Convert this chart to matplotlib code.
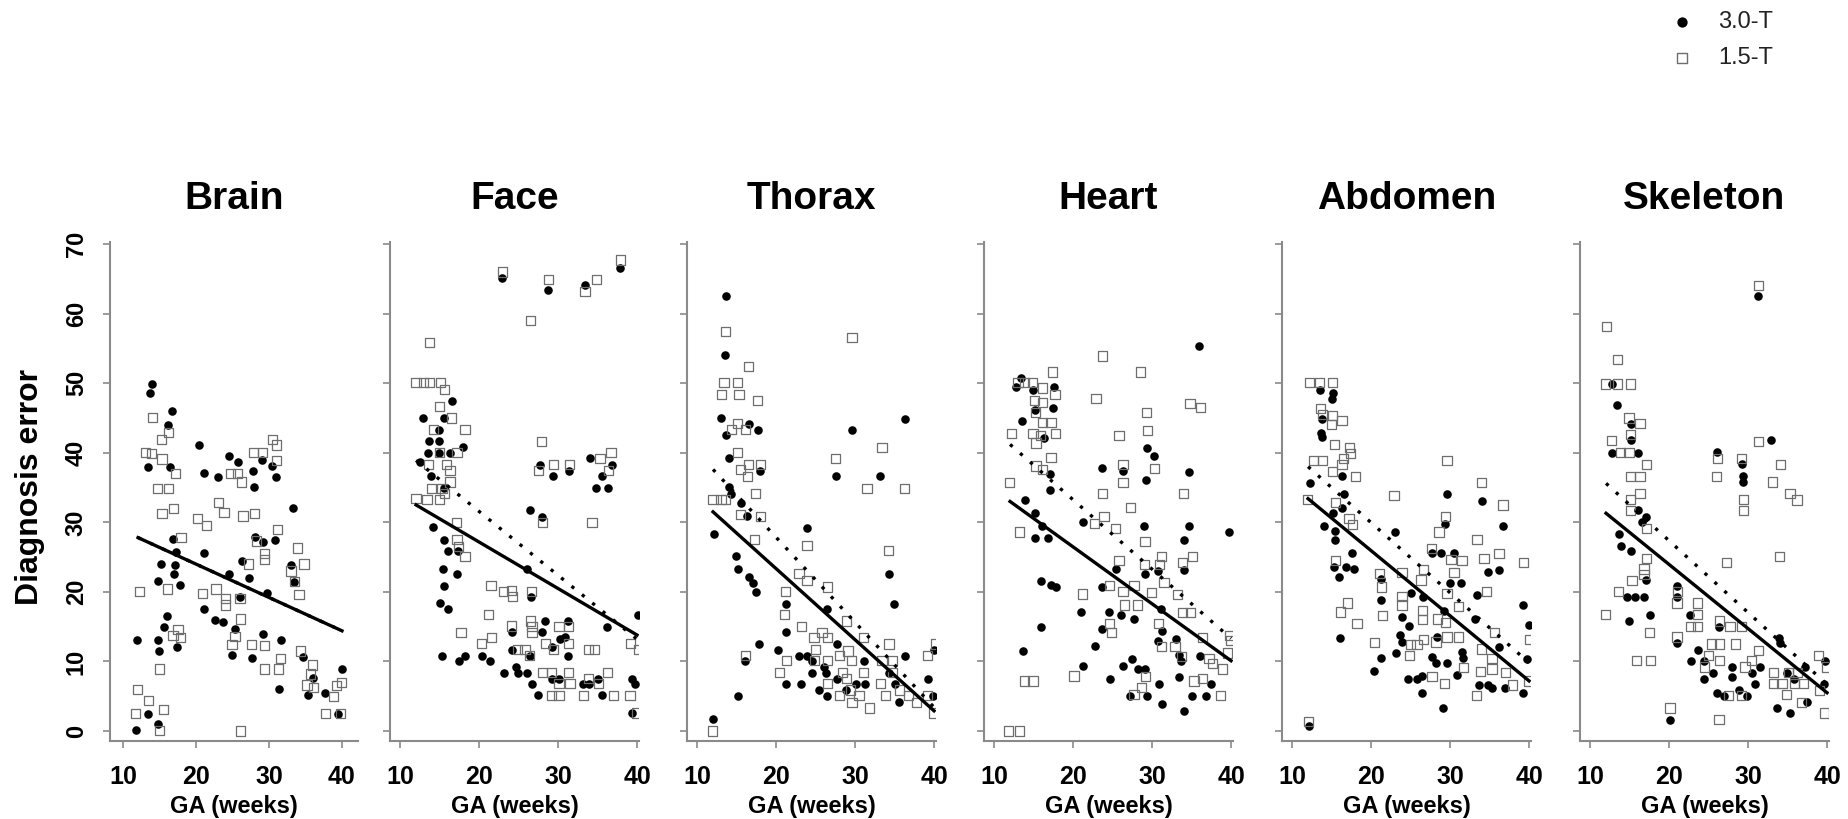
import matplotlib
matplotlib.use("Agg")
import matplotlib.pyplot as plt

plt.rcParams['font.family'] = ['Liberation Sans', 'DejaVu Sans']

panels = ['Brain', 'Face', 'Thorax', 'Heart', 'Abdomen', 'Skeleton']
x_ticks = [10, 20, 30, 40]
y_ticks = [0, 10, 20, 30, 40, 50, 60, 70]
legend_labels = ['3.0-T', '1.5-T']
x_label = 'GA (weeks)'
y_label = 'Diagnosis error'

# ---- (GA, error) pairs, 3.0-T (filled circles) and 1.5-T (open squares) ----
brain_30 = [(13.9,49.9),(13.6,48.6),(16.7,46.0),(16.1,44.0),(13.3,38.0),(16.4,38.0),(20.4,41.1),(21.1,37.1),
            (23.0,36.5),(24.5,39.5),(25.7,38.6),(27.8,37.4),(27.9,35.1),(29.0,39.0),(30.4,38.1),(30.9,36.5),
            (33.3,32.0),(28.1,27.9),(29.1,27.1),(30.8,27.5),(16.8,27.6),(17.2,25.7),(21.0,25.6),(26.3,24.5),
            (15.2,24.0),(17.1,23.9),(16.9,22.5),(14.8,21.5),(17.8,21.0),(27.3,22.0),(33.0,23.9),(33.4,21.4),
            (24.5,22.5),(29.7,19.9),(26.0,19.3),(21.1,17.5),(22.6,15.9),(23.7,15.6),(16.0,16.6),(15.5,15.0),
            (25.3,14.6),(11.8,13.1),(14.7,13.1),(14.9,11.5),(17.4,12.1),(24.9,10.9),(27.6,10.5),(29.2,14.0),
            (31.6,13.1),(31.3,6.0),(34.6,10.7),(36.0,7.6),(35.4,5.2),(37.7,5.5),(40.0,8.9),(39.4,2.5),
            (13.4,2.5),(14.8,1.0),(11.7,0.1)]
brain_15 = [(14.0,45.1),(15.2,41.9),(16.2,42.9),(13.0,40.0),(13.9,39.9),(15.3,39.1),(17.1,37.0),(14.7,34.9),
            (16.2,34.9),(16.9,32.0),(15.3,31.3),(17.9,27.8),(20.2,30.5),(21.4,29.5),(23.0,32.9),(23.8,31.4),
            (24.7,37.0),(25.7,37.0),(26.2,35.8),(26.4,30.9),(27.9,40.0),(29.1,40.0),(28.0,31.3),(30.5,41.9),
            (31.0,41.1),(31.0,38.9),(31.2,29.0),(28.3,27.3),(27.2,24.0),(29.4,25.5),(29.4,24.7),(33.9,26.3),
            (34.8,24.0),(33.0,23.0),(33.5,21.5),(34.1,19.6),(12.2,20.0),(16.0,20.4),(20.9,19.8),(22.7,20.4),
            (24.0,19.0),(24.0,18.1),(26.0,19.1),(26.1,16.1),(17.5,14.6),(16.8,13.7),(17.8,13.4),(25.3,13.6),
            (24.9,12.4),(27.6,12.4),(29.4,12.3),(31.6,10.4),(31.3,8.9),(29.4,8.9),(14.9,8.9),(11.9,6.0),
            (13.4,4.4),(11.7,2.5),(15.5,3.1),(14.9,0.1),(26.1,0.0),(34.3,11.5),(36.0,9.5),(35.7,8.2),
            (35.2,6.6),(36.1,6.3),(39.9,7.0),(39.2,6.5),(38.8,5.0),(37.7,2.5),(39.8,2.5)]

face_30 = [(22.9,65.1),(28.7,63.4),(33.4,64.1),(37.8,66.5),(16.6,47.5),(12.9,45.0),(15.5,45.0),(14.9,43.2),
           (13.6,41.7),(14.9,41.7),(18.0,40.8),(13.5,40.0),(14.9,40.0),(16.3,40.0),(12.5,38.6),(13.9,36.6),
           (15.5,34.9),(27.7,38.3),(29.4,36.6),(31.4,37.4),(34.1,39.2),(36.8,38.3),(35.6,36.6),(34.8,35.0),
           (36.3,35.0),(26.5,31.7),(28.0,30.8),(14.1,29.3),(15.6,27.5),(16.0,25.9),(17.3,25.9),(15.4,23.3),
           (17.2,22.5),(15.5,20.9),(15.0,18.4),(16.1,17.5),(26.1,23.3),(26.6,19.3),(40.1,16.7),(36.2,15.0),
           (28.4,15.8),(31.3,15.8),(15.3,10.8),(17.5,10.1),(18.2,10.8),(20.3,10.8),(21.4,10.1),(24.1,14.3),
           (24.1,11.7),(26.5,10.8),(28.0,14.2),(29.2,12.1),(30.3,13.2),(30.9,13.5),(31.3,10.8),(23.1,8.4),
           (24.7,9.2),(24.9,8.4),(26.1,8.4),(26.7,6.8),(27.5,5.2),(29.2,7.5),(30.1,7.5),(33.1,6.8),
           (33.9,6.8),(35.1,7.5),(35.5,5.2),(39.4,7.5),(39.8,6.8),(39.4,2.6)]
face_15 = [(23.0,66.0),(28.8,64.9),(33.4,63.2),(34.9,64.9),(37.9,67.7),(26.5,59.0),(13.7,55.8),(12.0,50.1),
           (12.9,50.1),(13.7,50.1),(15.1,50.1),(15.6,49.1),(15.0,46.7),(16.5,45.0),(14.2,43.3),(18.2,43.3),
           (15.0,40.0),(17.2,40.0),(13.6,38.3),(15.9,38.3),(16.3,37.4),(16.3,35.8),(14.0,34.9),(15.3,34.9),
           (15.6,34.1),(12.0,33.4),(13.4,33.3),(15.0,33.3),(27.9,41.6),(27.5,37.4),(29.4,38.3),(31.4,38.3),
           (35.3,39.2),(36.7,40.0),(36.4,37.4),(34.3,30.0),(28.0,30.0),(17.1,30.0),(17.2,27.5),(17.4,26.5),
           (18.2,25.1),(21.5,20.9),(23.1,20.0),(24.1,20.2),(24.2,19.3),(26.6,20.0),(21.2,16.7),(17.7,14.2),
           (24.1,15.1),(26.5,15.8),(26.7,14.2),(30.1,15.0),(31.3,15.0),(20.3,12.6),(21.6,13.4),(24.9,11.7),
           (25.8,11.7),(28.4,12.6),(29.4,11.7),(31.3,12.6),(33.9,11.7),(34.6,11.7),(39.2,12.6),(40.2,11.7),
           (28.0,8.4),(29.2,8.4),(31.3,8.4),(36.3,8.4),(30.1,6.8),(31.5,6.8),(33.9,7.5),(35.1,6.8),
           (29.2,5.1),(30.1,5.1),(33.2,5.1),(37.0,5.1),(39.1,5.1),(40.0,2.6),(26.4,10.8),(26.7,15.0)]

thorax_30 = [(13.7,62.5),(13.5,54.1),(13.0,45.0),(13.7,42.6),(16.5,44.2),(17.7,43.3),(14.0,39.2),(18.0,37.4),
             (14.0,35.1),(14.3,34.1),(15.5,32.8),(16.3,30.9),(12.1,28.3),(14.9,25.1),(15.2,23.3),(16.5,22.2),
             (17.0,21.3),(17.4,20.0),(29.6,43.3),(27.6,36.6),(33.2,36.6),(36.3,44.9),(23.9,29.2),(34.3,22.5),
             (34.9,18.3),(21.2,18.3),(26.4,17.6),(21.2,14.2),(17.8,12.5),(16.1,10.1),(20.2,11.7),(22.9,10.8),
             (23.9,10.8),(24.6,10.1),(27.7,12.5),(31.1,10.1),(36.3,10.8),(40.0,11.6),(24.6,8.4),(26.1,9.2),
             (26.3,8.4),(27.7,7.5),(21.3,6.8),(23.1,6.8),(30.1,6.8),(31.3,6.8),(34.3,8.4),(35.1,6.8),
             (39.2,7.5),(25.4,5.9),(26.4,5.1),(28.9,5.9),(35.6,4.1),(39.9,5.1),(15.2,5.1),(12.0,1.7)]
thorax_15 = [(13.6,57.4),(29.6,56.6),(16.5,52.4),(13.4,50.1),(15.1,50.1),(13.1,48.4),(15.3,48.4),(17.6,47.5),
             (14.3,43.3),(15.1,44.2),(16.1,43.3),(33.4,40.7),(15.1,40.0),(27.5,39.2),(15.5,37.6),(16.5,38.3),
             (18.0,38.3),(16.4,36.6),(17.4,34.1),(31.5,34.9),(36.3,34.9),(12.0,33.3),(13.0,33.3),(13.6,33.3),
             (15.5,31.1),(18.0,30.8),(17.3,27.5),(23.9,26.7),(34.2,25.9),(22.9,22.6),(23.9,21.6),(26.5,20.7),
             (21.2,20.0),(21.1,16.7),(23.2,15.0),(28.9,15.8),(25.8,14.2),(24.8,13.4),(26.5,13.4),(31.1,13.4),
             (16.1,10.8),(25.0,11.7),(29.1,11.5),(34.3,12.5),(40.2,12.5),(39.2,10.8),(21.3,10.1),(24.9,10.1),
             (26.5,10.1),(28.0,10.8),(29.5,10.1),(33.4,10.1),(34.7,10.1),(20.4,8.4),(28.4,8.4),(31.1,8.4),
             (34.7,8.4),(28.9,7.5),(26.5,6.8),(33.2,6.8),(29.4,5.9),(30.5,5.1),(28.0,5.1),(33.9,5.1),
             (36.8,5.1),(39.2,5.1),(29.6,4.1),(31.8,3.3),(37.8,4.1),(39.9,2.6),(11.9,0.0),(35.6,5.9)]

heart_30 = [(36.0,55.4),(13.4,50.8),(12.7,49.5),(14.9,49.0),(17.6,49.4),(17.4,46.5),(15.1,46.1),(13.5,44.6),
            (16.3,42.1),(29.3,40.7),(30.3,39.5),(23.7,37.8),(26.3,37.4),(34.7,37.2),(17.0,36.9),(29.2,36.1),
            (17.0,34.6),(13.9,33.2),(15.1,31.4),(16.1,29.5),(15.2,27.8),(16.8,27.8),(21.2,30.0),(29.0,29.4),
            (34.7,29.4),(39.7,28.6),(34.0,27.5),(34.0,23.2),(25.4,23.3),(29.1,22.6),(30.7,23.0),(15.9,21.6),
            (17.2,21.0),(17.8,20.7),(23.7,20.7),(21.0,17.1),(24.6,17.1),(26.1,16.7),(27.7,16.1),(31.1,17.6),
            (15.9,15.0),(23.7,14.7),(31.3,14.4),(30.8,13.0),(33.0,13.2),(33.4,10.9),(36.1,10.8),(33.7,10.1),
            (13.7,11.5),(22.8,12.2),(21.2,9.3),(26.3,9.3),(27.5,10.4),(28.2,8.9),(29.1,8.9),(24.7,7.5),
            (30.9,6.8),(33.4,7.8),(37.5,6.8),(27.2,5.1),(29.3,5.1),(35.1,5.1),(36.8,5.1),(31.2,3.9),(34.1,2.9)]
heart_15 = [(23.7,53.9),(28.5,51.6),(17.4,51.6),(22.9,47.8),(34.8,47.1),(36.1,46.5),(13.0,50.1),(13.8,50.1),
            (14.8,50.1),(16.1,49.3),(17.7,48.4),(15.1,47.5),(16.1,47.2),(15.2,45.8),(16.1,44.4),(17.2,44.4),
            (12.2,42.8),(14.9,42.8),(15.9,42.5),(17.8,42.8),(15.3,41.4),(29.3,45.8),(29.4,43.2),(25.8,42.5),
            (17.2,39.3),(15.3,38.1),(16.1,37.6),(30.3,37.7),(26.3,38.3),(26.3,35.7),(11.9,35.7),(23.7,34.1),
            (34.0,34.1),(27.3,32.1),(23.9,30.8),(22.7,29.8),(25.4,29.1),(13.2,28.6),(29.1,27.2),(31.2,25.1),
            (35.1,25.1),(30.9,23.9),(33.9,24.2),(29.0,23.9),(25.8,24.5),(31.5,21.3),(33.2,19.6),(24.6,20.9),
            (27.7,20.9),(21.2,19.7),(26.3,20.0),(29.9,19.9),(26.5,18.1),(28.1,18.1),(33.9,17.0),(34.9,17.0),
            (24.6,15.4),(24.9,14.2),(30.8,15.4),(31.2,12.2),(32.9,12.2),(33.7,10.7),(36.4,13.4),(39.8,13.7),
            (39.9,13.0),(39.6,11.2),(37.2,10.4),(37.7,9.7),(38.9,8.9),(29.2,7.8),(20.1,7.9),(36.4,7.5),
            (35.3,7.2),(13.8,7.2),(14.9,7.2),(27.7,5.3),(28.7,6.2),(38.7,5.1),(11.8,0.0),(13.2,0.0)]

abdomen_30 = [(13.5,49.0),(15.1,48.6),(15.0,47.8),(13.8,44.9),(13.6,42.8),(13.8,42.3),(16.3,36.6),(12.2,35.7),
              (16.5,34.1),(16.3,32.0),(15.1,31.4),(14.0,29.5),(15.4,28.8),(15.4,27.4),(17.6,25.6),(15.3,23.6),
              (16.8,23.6),(17.8,23.3),(15.9,22.2),(16.0,13.4),(29.6,34.1),(34.1,33.1),(29.4,29.7),(36.7,29.5),
              (23.0,28.6),(27.7,25.6),(28.8,25.6),(30.5,25.6),(34.8,22.9),(36.2,23.2),(30.0,21.3),(31.4,21.3),
              (33.4,19.6),(21.2,21.8),(26.6,19.3),(25.0,19.8),(29.2,17.3),(21.2,18.9),(39.2,18.1),(40.0,15.3),
              (23.9,16.4),(33.2,16.1),(24.8,15.1),(28.4,13.5),(23.7,13.8),(23.9,12.8),(23.1,11.2),(21.2,10.5),
              (20.4,8.6),(27.7,10.7),(28.2,9.8),(29.6,9.8),(31.5,11.3),(31.6,10.5),(30.9,8.1),(36.2,12.1),
              (39.8,10.4),(24.7,7.5),(25.8,7.5),(26.5,7.9),(26.5,5.5),(29.1,3.3),(33.7,6.6),(34.8,6.6),
              (35.3,6.2),(37.0,6.2),(39.2,5.5),(12.1,0.7)]
abdomen_15 = [(12.2,50.1),(13.5,50.1),(15.1,50.1),(13.6,46.4),(13.8,45.5),(15.1,45.3),(16.3,44.6),(15.0,44.1),
              (15.4,41.2),(17.3,40.8),(17.4,39.9),(16.5,39.2),(12.7,38.9),(13.8,38.9),(16.3,38.3),(15.1,37.3),
              (18.0,36.6),(29.6,38.9),(34.0,35.7),(11.9,33.3),(15.5,32.9),(22.9,33.9),(36.7,32.5),(17.2,30.6),
              (17.6,29.7),(29.4,30.8),(28.6,28.6),(33.4,27.5),(27.6,26.2),(30.1,24.7),(31.5,24.5),(34.3,24.8),
              (36.2,25.5),(39.3,24.2),(15.5,24.5),(21.1,22.6),(23.9,22.8),(26.6,23.2),(30.5,22.8),(26.3,21.7),
              (21.3,20.7),(23.9,19.3),(34.6,20.0),(29.6,19.8),(23.9,18.1),(31.1,17.9),(17.0,18.4),(16.1,17.1),
              (21.4,16.6),(26.5,17.3),(26.5,16.0),(28.4,16.1),(29.4,15.6),(18.2,15.4),(35.6,14.2),(40.1,13.1),
              (20.4,12.7),(25.0,12.4),(25.8,12.4),(26.6,13.1),(28.2,12.8),(29.6,13.5),(31.1,13.5),(34.0,11.8),
              (35.3,10.4),(24.9,10.8),(31.7,9.1),(33.9,8.6),(35.3,8.9),(37.0,8.4),(27.7,7.8),(29.3,6.8),
              (37.9,6.6),(40.0,7.2),(33.3,5.1),(12.1,1.4)]

skeleton_30 = [(31.2,62.5),(12.7,49.9),(13.4,46.8),(15.2,44.2),(15.1,41.8),(12.7,40.0),(16.0,40.0),(32.9,41.8),
               (26.1,40.1),(29.2,38.4),(29.3,36.6),(29.3,35.8),(16.0,31.7),(17.1,30.8),(16.5,30.0),(13.7,28.3),
               (13.9,26.6),(15.1,25.9),(17.1,21.7),(21.0,20.9),(14.6,19.3),(15.7,19.3),(16.8,19.3),(21.0,19.3),
               (17.6,16.7),(22.7,16.7),(14.9,15.8),(26.3,15.0),(33.9,13.4),(21.0,12.6),(23.6,11.6),(22.8,10.1),
               (24.4,10.1),(34.1,12.6),(39.8,10.1),(25.5,8.4),(24.4,7.5),(27.9,9.2),(30.5,8.4),(31.5,9.2),
               (30.9,6.8),(34.9,8.4),(35.8,7.5),(37.2,9.2),(39.6,6.8),(26.1,5.5),(26.9,5.1),(28.9,5.9),
               (29.9,5.1),(33.7,3.3),(35.3,2.6),(37.5,4.1),(20.1,1.6),(28.0,7.7)]
skeleton_15 = [(31.3,64.1),(12.1,58.2),(13.5,53.4),(11.9,49.9),(13.5,49.9),(15.1,49.9),(14.9,45.0),(16.3,44.2),
               (12.7,41.8),(15.1,42.6),(13.8,40.0),(14.9,40.0),(31.3,41.6),(17.1,38.3),(29.2,39.2),(26.1,39.2),
               (34.1,38.3),(15.1,36.6),(16.3,36.6),(26.0,36.6),(33.1,35.8),(16.3,34.1),(35.3,34.1),(36.2,33.2),
               (15.1,33.3),(29.4,33.3),(29.4,31.7),(15.1,31.7),(17.1,29.1),(34.0,25.1),(17.1,24.8),(27.3,24.2),
               (16.8,23.3),(16.8,22.5),(15.3,21.6),(13.6,20.0),(11.9,16.7),(21.1,20.0),(21.0,18.4),(23.6,18.4),
               (23.6,16.7),(22.7,15.0),(23.6,15.0),(26.4,15.8),(27.7,15.0),(29.2,15.0),(17.5,14.2),(21.0,13.5),
               (26.4,12.5),(25.4,12.5),(28.4,12.5),(31.3,11.6),(15.9,10.1),(17.6,10.1),(25.0,10.9),(24.5,9.2),
               (26.4,10.1),(29.6,9.2),(30.4,10.1),(33.2,8.4),(33.2,6.8),(34.3,6.8),(35.1,8.4),(36.3,8.4),
               (35.9,6.8),(37.0,6.8),(34.9,5.2),(38.9,10.9),(39.9,9.2),(39.0,5.8),(27.5,5.1),(29.2,5.1),
               (36.8,4.1),(39.7,2.6),(26.3,1.7),(20.1,3.3)]

# ---- fitted lines: error at GA = 12 and GA = 40 ----
fit_x = [12, 40]
fit_solid = {'Brain': [27.8, 14.4], 'Face': [32.5, 13.8], 'Thorax': [31.5, 2.9],
             'Heart': [33.0, 10.1], 'Abdomen': [33.4, 7.2], 'Skeleton': [31.3, 5.5]}
fit_dotted = {'Brain': [27.8, 14.4], 'Face': [38.9, 13.2], 'Thorax': [37.6, 3.4],
              'Heart': [41.2, 13.3], 'Abdomen': [38.0, 9.8], 'Skeleton': [35.6, 6.7]}

series_30 = {'Brain': brain_30, 'Face': face_30, 'Thorax': thorax_30,
             'Heart': heart_30, 'Abdomen': abdomen_30, 'Skeleton': skeleton_30}
series_15 = {'Brain': brain_15, 'Face': face_15, 'Thorax': thorax_15,
             'Heart': heart_15, 'Abdomen': abdomen_15, 'Skeleton': skeleton_15}

# ---- layout (pixels) ----
W, H = 1848, 819
fig = plt.figure(figsize=(W / 100, H / 100), dpi=100)

ax_left_px = [110, 390, 687, 984, 1282, 1580]
ax_w_px = [248, 249, 249, 249, 249, 249]
xlims = [(8.15, 42.2), (8.7, 40.25), (8.7, 40.25), (8.7, 40.25), (8.7, 40.25), (8.7, 40.25)]
bottom_px, top_px = 741, 242
ylim = (-1.44, 70.3)

axis_grey = '#8a8a8a'
sq_grey = '#6e6e6e'

for i, name in enumerate(panels):
    ax = fig.add_axes([ax_left_px[i] / W, (H - bottom_px) / H,
                       ax_w_px[i] / W, (bottom_px - top_px) / H])
    p30 = series_30[name]
    p15 = series_15[name]
    ax.scatter([p[0] for p in p30], [p[1] for p in p30], s=38, c='black',
               marker='o', linewidths=0, zorder=2)
    ax.scatter([p[0] for p in p15], [p[1] for p in p15], s=44, facecolors='none',
               edgecolors=sq_grey, marker='s', linewidths=0.9, zorder=3)
    ax.plot(fit_x, fit_dotted[name], color='black', lw=2.4,
            linestyle=(0, (1.0, 3.0)), zorder=4)
    ax.plot(fit_x, fit_solid[name], color='black', lw=2.4, zorder=5)

    ax.set_xlim(*xlims[i])
    ax.set_ylim(*ylim)
    for s in ['top', 'right']:
        ax.spines[s].set_visible(False)
    for s in ['left', 'bottom']:
        ax.spines[s].set_color(axis_grey)
        ax.spines[s].set_linewidth(1.5)
    ax.set_xticks(x_ticks)
    ax.set_yticks(y_ticks)
    ax.tick_params(axis='both', colors=axis_grey, length=5, width=1.2)
    ax.tick_params(axis='x', labelcolor='black', labelsize=18, pad=12)
    ax.tick_params(axis='y', labelcolor='black', labelsize=17, pad=11)
    for lab in ax.get_xticklabels():
        lab.set_fontweight('bold')
    if i == 0:
        for lab in ax.get_yticklabels():
            lab.set_fontweight('bold')
            lab.set_rotation(90)
            lab.set_va('center')
    else:
        ax.set_yticklabels([])

    cx = (ax_left_px[i] + ax_w_px[i] / 2) / W
    fig.text(cx, (H - 209) / H, name, ha='center', va='baseline',
             fontsize=28, fontweight='bold')
    fig.text(cx, (H - 807) / H, x_label, ha='center', va='center',
             fontsize=17, fontweight='bold')

fig.text(30 / W, (H - 487) / H, y_label, rotation=90, ha='center', va='center',
         fontsize=23, fontweight='bold')

# ---- legend ----
leg_ax = fig.add_axes([0, 0, 1, 1], facecolor='none')
leg_ax.set_xlim(0, W)
leg_ax.set_ylim(H, 0)
leg_ax.axis('off')
leg_ax.scatter([1682], [22], s=55, c='black', marker='o', linewidths=0)
leg_ax.scatter([1682], [58], s=60, facecolors='none', edgecolors=sq_grey,
               marker='s', linewidths=1.0)
leg_ax.text(1718, 22, legend_labels[0], ha='left', va='center', fontsize=17, color='#222222')
leg_ax.text(1718, 58, legend_labels[1], ha='left', va='center', fontsize=17, color='#222222')

fig.savefig('out.png', dpi=100)
